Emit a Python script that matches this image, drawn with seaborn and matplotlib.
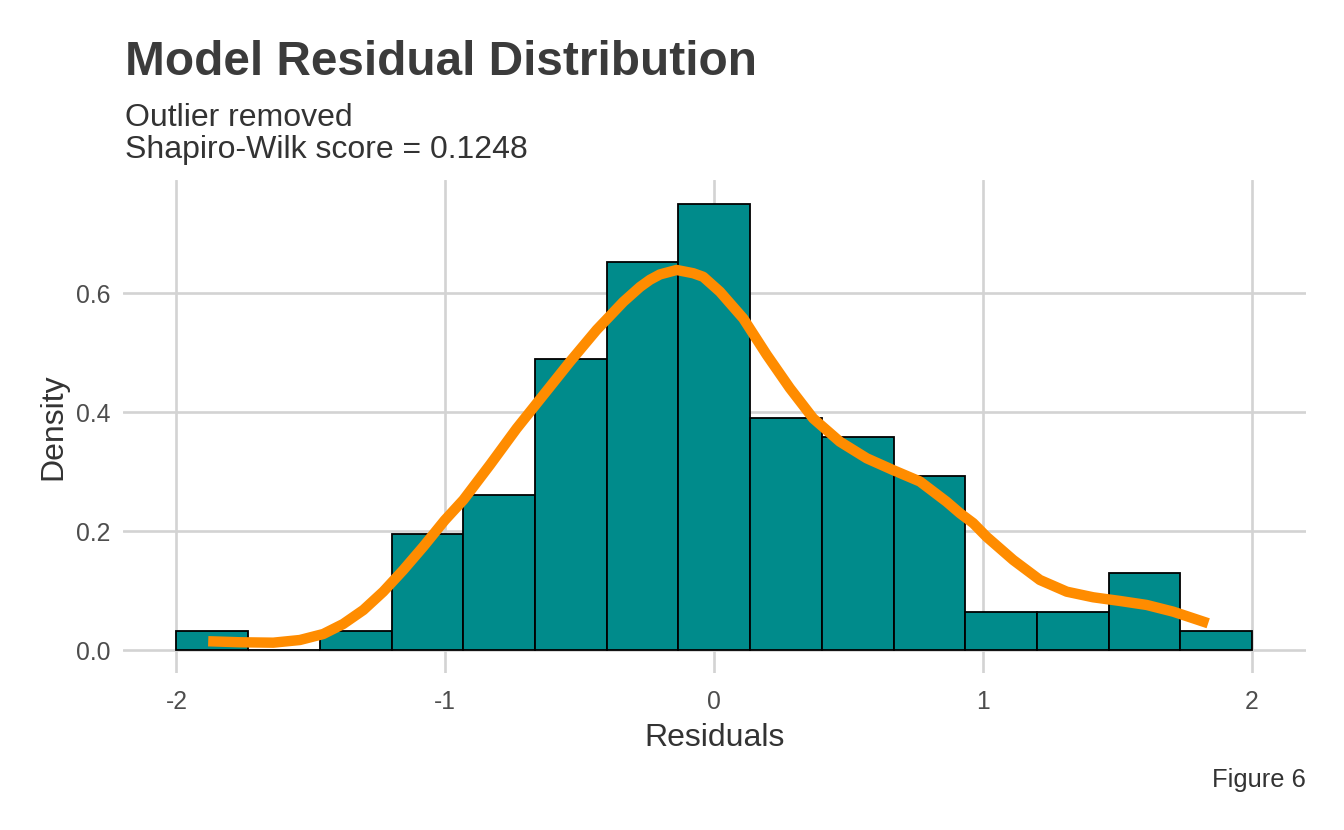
import numpy as np
import pandas as pd
import matplotlib
matplotlib.use("Agg")
import matplotlib.pyplot as plt
import seaborn as sns

# ---- data ----
bin_lo, bin_hi, n_bins = -2.0, 2.0, 15
bin_counts = [1, 0, 1, 6, 8, 15, 20, 23, 12, 11, 9, 2, 2, 4, 1]

kde_x = [-1.882, -1.764, -1.640, -1.541, -1.454, -1.380, -1.305, -1.231, -1.157,
         -1.082, -1.002, -0.933, -0.834, -0.735, -0.636, -0.537, -0.437, -0.338,
         -0.276, -0.239, -0.202, -0.140, -0.078, -0.041, 0.021, 0.108, 0.195,
         0.281, 0.368, 0.467, 0.567, 0.666, 0.765, 0.864, 0.914, 0.963, 1.013,
         1.112, 1.211, 1.311, 1.409, 1.509, 1.608, 1.707, 1.837]
kde_y = [0.0155, 0.0138, 0.0131, 0.0176, 0.0277, 0.0445, 0.068, 0.0988, 0.135,
         0.1745, 0.219, 0.253, 0.312, 0.373, 0.429, 0.485, 0.539, 0.586,
         0.611, 0.623, 0.632, 0.6395, 0.634, 0.628, 0.603, 0.558, 0.497,
         0.441, 0.390, 0.351, 0.323, 0.303, 0.284, 0.250, 0.2306, 0.214, 0.191,
         0.152, 0.1185, 0.0988, 0.0894, 0.0832, 0.0765, 0.0652, 0.0457]

x_ticks = [-2, -1, 0, 1, 2]
x_tick_labels = ["-2", "-1", "0", "1", "2"]
y_ticks = [0.0, 0.2, 0.4, 0.6]
y_tick_labels = ["0.0", "0.2", "0.4", "0.6"]

title = "Model Residual Distribution"
subtitle1 = "Outlier removed"
subtitle2 = "Shapiro-Wilk score = 0.1248"
caption = "Figure 6"
xlabel = "Residuals"
ylabel = "Density"

# ---- build frames ----
edges = np.linspace(bin_lo, bin_hi, n_bins + 1)
centers = (edges[:-1] + edges[1:]) / 2
hist_df = pd.DataFrame({"x": centers, "w": np.asarray(bin_counts, dtype=float)})
kde_df = pd.DataFrame({"x": kde_x, "y": kde_y})

sns.set_theme(style="white")
plt.rcParams["font.family"] = ["Liberation Sans", "DejaVu Sans"]
plt.rcParams["axes.unicode_minus"] = False

W, H = 1344, 830
fig = plt.figure(figsize=(W / 100, H / 100), dpi=100)
left_px, right_px, top_px, bot_px = 122.7, 1305.8, 180.0, 672.9
ax = fig.add_axes([left_px / W, 1 - bot_px / H, (right_px - left_px) / W, (bot_px - top_px) / H])

sns.histplot(data=hist_df, x="x", weights="w", bins=n_bins, binrange=(bin_lo, bin_hi),
             stat="density", color="#008B8B", edgecolor="black", linewidth=1.3,
             alpha=1.0, ax=ax, zorder=2)
sns.lineplot(data=kde_df, x="x", y="y", color="#FF8C00", linewidth=7.5,
             ax=ax, zorder=3, sort=False, solid_capstyle="butt",
             solid_joinstyle="round")

ax.set_xlim(-2.2, 2.2)
ax.set_ylim(-0.0377, 0.7907)
ax.set_xticks(x_ticks)
ax.set_xticklabels(x_tick_labels)
ax.set_yticks(y_ticks)
ax.set_yticklabels(y_tick_labels)
ax.tick_params(axis="both", length=0, labelsize=17.8, labelcolor="#4D4D4D")
ax.tick_params(axis="x", pad=12)
ax.tick_params(axis="y", pad=9)
ax.grid(True, color="#D3D3D3", linewidth=1.9, zorder=0)
ax.set_axisbelow(True)
for s in ax.spines.values():
    s.set_visible(False)

ax.set_xlabel(xlabel, fontsize=23, color="#333333", labelpad=7)
ax.set_ylabel(ylabel, fontsize=23, color="#333333", labelpad=5)

fig.text(left_px / W + 0.002, 1 - 75 / H, title, fontsize=34.4, fontweight="bold",
         color="#3B3B3B", ha="left", va="baseline")
fig.text(left_px / W + 0.002, 1 - 126 / H, subtitle1, fontsize=23,
         color="#333333", ha="left", va="baseline")
fig.text(left_px / W + 0.002, 1 - 158 / H, subtitle2, fontsize=23,
         color="#333333", ha="left", va="baseline")
fig.text(right_px / W, 1 - 787 / H, caption, fontsize=18.4,
         color="#333333", ha="right", va="baseline")

fig.savefig("out.png", dpi=100, facecolor="white")
